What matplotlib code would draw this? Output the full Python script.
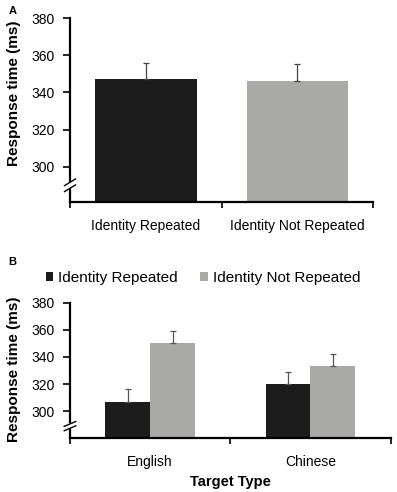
import matplotlib.pyplot as plt
import matplotlib.transforms as mtransforms
import numpy as np

plt.rcParams['font.family'] = ['Liberation Sans', 'DejaVu Sans']

# Panel A data
conditions = ['Identity Repeated', 'Identity Not Repeated']
rt_a = [347.0, 346.0]
err_a = [9.0, 9.0]

# Panel B data
target_types = ['English', 'Chinese']
rt_repeated = [307.0, 320.0]
err_repeated = [9.5, 9.0]
rt_not_repeated = [350.5, 333.0]
err_not_repeated = [8.5, 9.0]

dark = '#1b1c1b'
grey = '#a9aaa8'
yticks = [300, 320, 340, 360, 380]


def style_axis(ax, ymin, break_at):
    ax.spines['top'].set_visible(False)
    ax.spines['right'].set_visible(False)
    ax.spines['left'].set_linewidth(1.6)
    ax.spines['bottom'].set_linewidth(1.6)
    ax.set_ylim(ymin, 380)
    ax.set_yticks(yticks)
    ax.tick_params(axis='y', labelsize=10, width=1.2, length=5, pad=6, direction='out')
    ax.set_xlim(-0.5, 1.5)
    ax.set_xticks([0, 1])
    ax.tick_params(axis='x', which='major', length=0, labelsize=10, pad=12)
    ax.set_xticks([-0.5, 0.5, 1.5], minor=True)
    ax.tick_params(axis='x', which='minor', length=4, width=1.2, direction='out')
    ax.set_ylabel('Response time (ms)', fontsize=11, fontweight='bold')
    # axis break marks
    trans = mtransforms.blended_transform_factory(ax.transAxes, ax.transData)
    ax.plot([-0.02, 0.02], [break_at - 1.5, break_at + 1.5], color='white', lw=4,
            transform=trans, clip_on=False, zorder=5)
    for dy in (-1.6, 1.6):
        ax.plot([-0.018, 0.018], [break_at - 1.8 + dy, break_at + 1.8 + dy], color='black',
                lw=1.0, transform=trans, clip_on=False, zorder=6)


fig = plt.figure(figsize=(3.97, 4.92), dpi=100)

# Panel A
ax_a = fig.add_axes([0.1763, 0.5894, 0.7640, 0.3740])
x_a = np.arange(len(conditions))
ax_a.bar(x_a, [v - 281 for v in rt_a], bottom=281, width=0.67, color=[dark, grey], zorder=2)
ax_a.errorbar(x_a, rt_a, yerr=[[0, 0], err_a], fmt='none', ecolor='#444444',
              elinewidth=0.9, capsize=2.5, capthick=0.9, zorder=3)
style_axis(ax_a, 281, 290)
ax_a.set_xticklabels(conditions)
ax_a.yaxis.set_label_coords(-0.162, 0.59)
fig.text(0.022, 0.988, 'A', fontsize=8, fontweight='bold', va='top')

# Panel B
ax_b = fig.add_axes([0.1763, 0.1091, 0.8077, 0.2757])
x_b = np.arange(len(target_types))
w = 0.28
ax_b.bar(x_b - w / 2, [v - 280 for v in rt_repeated], bottom=280, width=w, color=dark,
         label='Identity Repeated', zorder=2)
ax_b.bar(x_b + w / 2, [v - 280 for v in rt_not_repeated], bottom=280, width=w, color=grey,
         label='Identity Not Repeated', zorder=2)
ax_b.errorbar(x_b - w / 2, rt_repeated, yerr=[[0, 0], err_repeated], fmt='none',
              ecolor='#555555', elinewidth=0.9, capsize=2.5, capthick=0.9, zorder=3)
ax_b.errorbar(x_b + w / 2, rt_not_repeated, yerr=[[0, 0], err_not_repeated], fmt='none',
              ecolor='#555555', elinewidth=0.9, capsize=2.5, capthick=0.9, zorder=3)
style_axis(ax_b, 280, 289)
ax_b.set_xticklabels(target_types)
ax_b.yaxis.set_label_coords(-0.152, 0.51)
ax_b.set_xlabel('Target Type', fontsize=10.5, fontweight='bold', labelpad=4)
ax_b.legend(loc='lower left', bbox_to_anchor=(-0.095, 1.085), ncol=2, frameon=False,
            fontsize=11, handlelength=0.5, handleheight=0.5, handletextpad=0.3,
            columnspacing=1.5, borderaxespad=0)
fig.text(0.022, 0.478, 'B', fontsize=8, fontweight='bold', va='top')

fig.savefig('out.png', dpi=100)
